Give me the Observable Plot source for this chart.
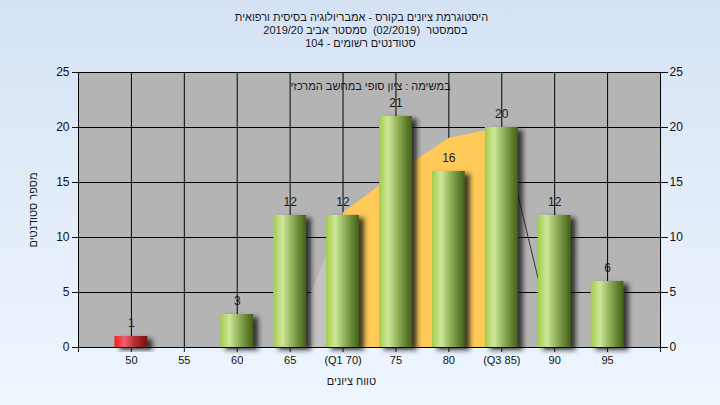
<!DOCTYPE html>
<html>
<head>
<meta charset="utf-8">
<script src="https://cdn.jsdelivr.net/npm/d3@7"></script>
<script src="https://cdn.jsdelivr.net/npm/@observablehq/plot@0.6"></script>
<style>
  html, body { margin: 0; padding: 0; width: 720px; height: 405px; overflow: hidden;
    background: linear-gradient(to bottom, #d4e2f4 0%, #e3edf9 50%, #eef6fe 100%); }
  #chart svg { display: block; }
</style>
</head>
<body>
<div id="chart"></div>
<script>
// ---- data ----
const categories = [50, 55, 60, 65, 70, 75, 80, 85, 90, 95];
const tickLabels = ["50", "55", "60", "65", "(Q1 70)", "75", "80", "(Q3 85)", "90", "95"];
const counts = [1, 0, 3, 12, 12, 21, 16, 20, 12, 6];
const failBelow = 55;
const curveX = [65, 70, 75, 80, 85, 90];
const curveY = [0, 12.2, 15.8, 19, 20, 0];
const q1 = 70, q3 = 85;
const yTicks = [0, 5, 10, 15, 20, 25];
const titleLines = [
  "היסטוגרמת ציונים בקורס - אמבריולוגיה בסיסית ורפואית",
  "בסמסטר  (02/2019)  סמסטר אביב 2019/20",
  "סטודנטים רשומים - 104"
];
const note = "במשימה : ציון סופי במחשב המרכזי";
const yTitle = "מספר סטודנטים";
const xTitle = "טווח ציונים";

// ---- tables ----
const rows = categories.map((c, i) => ({cat: c, count: counts[i], label: tickLabels[i]}));
const labelMap = new Map(rows.map(r => [r.cat, r.label]));
const curve = curveX.map((x, i) => ({x, y: curveY[i]}));
const halfWidth = 1.55;

const font = "'Liberation Sans', Arial, sans-serif";
const fs = 11;

const svg = Plot.plot({
  width: 720,
  height: 405,
  marginLeft: 78,
  marginRight: 60,
  marginTop: 72,
  marginBottom: 58,
  style: {background: "transparent", fontFamily: font, fontSize: fs + "px", color: "#111", overflow: "visible"},
  x: {domain: [45, 100]},
  y: {domain: [0, 25]},
  marks: [
    Plot.frame({fill: "#b4b4b4", stroke: null}),
    Plot.gridY({ticks: yTicks, stroke: "#000", strokeOpacity: 1}),
    Plot.gridX({ticks: categories, stroke: "#000", strokeOpacity: 1}),
    // distribution curve
    Plot.areaY(curve.filter(d => d.x <= q1), {x: "x", y: "y", fill: "#c3c3c3"}),
    Plot.areaY(curve.filter(d => d.x >= q1 && d.x <= q3), {x: "x", y: "y", fill: "#ffca58"}),
    Plot.line(curve.filter(d => d.x >= q3), {x: "x", y: "y", stroke: "#333", strokeWidth: 1}),
    // bars
    Plot.rectY(rows.filter(d => d.count > 0 && d.cat < failBelow), {
      x1: d => d.cat - halfWidth, x2: d => d.cat + halfWidth, y1: 0, y2: "count",
      fill: "url(#gRed)", ariaDescription: "bars"
    }),
    Plot.rectY(rows.filter(d => d.count > 0 && d.cat >= failBelow), {
      x1: d => d.cat - halfWidth, x2: d => d.cat + halfWidth, y1: 0, y2: "count",
      fill: "url(#gGreen)", ariaDescription: "bars"
    }),
    Plot.text(rows.filter(d => d.count > 0), {
      x: "cat", y: "count", text: d => String(d.count), lineAnchor: "bottom", dy: -10,
      fill: "#1a1a1a", fontSize: 12
    }),
    Plot.frame({stroke: "#000"}),
    // axes
    Plot.axisY({ticks: yTicks, anchor: "left", tickSize: 6, tickPadding: 3, label: null, fill: "#111", fontSize: 12}),
    Plot.axisY({ticks: yTicks, anchor: "right", tickSize: 7, tickPadding: 2, label: null, fill: "#111", fontSize: 12}),
    Plot.axisX({ticks: [45, ...categories, 100], tickFormat: d => labelMap.get(d) ?? "", anchor: "bottom",
      tickSize: 5, tickPadding: 4, label: null, fill: "#111", fontSize: fs}),
    // texts
    ...titleLines.map((t, i) => Plot.text([t], {
      frameAnchor: "top", text: d => d, dx: [-8, -4, -9][i], dy: -55 + 13 * i,
      lineAnchor: "middle", fontSize: fs, fill: "#1a1a1a", ariaDescription: "heb"
    })),
    Plot.text([note], {frameAnchor: "top", text: d => d, dx: 1, dy: 14, lineAnchor: "middle",
      fontSize: fs, fill: "#1a1a1a", ariaDescription: "heb"}),
    Plot.text([yTitle], {frameAnchor: "left", text: d => d, rotate: -90, dx: -45, lineAnchor: "middle",
      textAnchor: "middle", fontSize: fs, fill: "#1a1a1a"}),
    Plot.text([xTitle], {frameAnchor: "bottom", text: d => d, dx: -18, dy: 34, lineAnchor: "middle",
      textAnchor: "middle", fontSize: fs, fill: "#1a1a1a", ariaDescription: "heb"})
  ]
});

// gradients and shadow
const root = d3.select(svg);
const defs = root.insert("defs", ":first-child");
function grad(id, stops) {
  const g = defs.append("linearGradient").attr("id", id).attr("x1", "0").attr("x2", "1").attr("y1", "0").attr("y2", "0");
  stops.forEach(([o, c]) => g.append("stop").attr("offset", o).attr("stop-color", c));
}
grad("gGreen", [["0", "#a2cc48"], ["0.28", "#cfe79a"], ["0.55", "#94b45c"], ["0.85", "#5c7b2c"], ["1", "#44601a"]]);
grad("gRed", [["0", "#ff1818"], ["0.3", "#f06070"], ["0.6", "#b83038"], ["1", "#781010"]]);
const f = defs.append("filter").attr("id", "shadow").attr("x", "-20%").attr("y", "-20%").attr("width", "160%").attr("height", "160%");
f.append("feDropShadow").attr("dx", 5).attr("dy", 3).attr("stdDeviation", 2.5)
  .attr("flood-color", "#181818").attr("flood-opacity", 0.85);
root.selectAll('g[aria-description="bars"]').attr("filter", "url(#shadow)");
root.selectAll('g[aria-description="heb"] text').attr("direction", "rtl");

document.getElementById("chart").appendChild(svg);
</script>
</body>
</html>
